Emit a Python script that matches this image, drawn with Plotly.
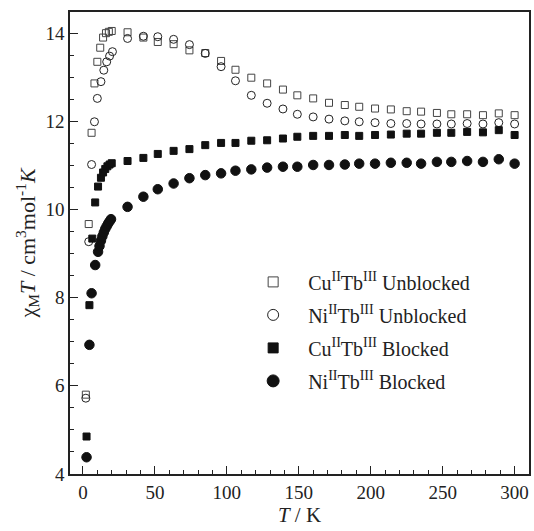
import plotly.graph_objects as go

T_hi = [31, 42, 52, 63, 74, 85, 96, 106, 117, 128, 139, 149, 160, 171, 182, 192,
        203, 214, 225, 235, 246, 256, 267, 278, 289, 300]

T_cu_unb = [2, 4, 6, 8, 10, 12, 14, 16, 18, 20] + T_hi
cu_unb = [5.8, 9.67, 11.74, 12.86, 13.35, 13.67, 13.9, 14.0, 14.03, 14.05,
          14.02, 13.9, 13.8, 13.75, 13.61, 13.55, 13.37, 13.17, 12.99, 12.86, 12.72,
          12.59, 12.52, 12.42, 12.37, 12.33, 12.29, 12.27, 12.23, 12.22, 12.19,
          12.16, 12.16, 12.14, 12.18, 12.14]

T_ni_unb = [2, 4, 6, 8, 10, 12.5, 14.5, 16.5, 18.5, 20.5] + T_hi
ni_unb = [5.72, 9.27, 11.02, 11.99, 12.52, 12.9, 13.16, 13.35, 13.48, 13.58,
          13.88, 13.93, 13.92, 13.86, 13.74, 13.54, 13.24, 12.92, 12.59, 12.41,
          12.28, 12.16, 12.1, 12.05, 12.01, 11.99, 11.97, 11.95, 11.95, 11.94,
          11.94, 11.94, 11.95, 11.94, 11.97, 11.94]

T_cu_blk = [2.5, 4.5, 6.5, 8.5, 10.5, 12.5, 14, 15.5, 17, 18.5, 20] + T_hi
cu_blk = [4.85, 7.83, 9.34, 10.16, 10.52, 10.72, 10.84, 10.92, 10.98, 11.02, 11.05,
          11.10, 11.17, 11.26, 11.33, 11.37, 11.46, 11.51, 11.51, 11.56, 11.57,
          11.61, 11.65, 11.67, 11.67, 11.69, 11.67, 11.69, 11.70, 11.72, 11.72,
          11.74, 11.74, 11.76, 11.75, 11.80, 11.69]

T_ni_blk = [2.5, 4.5, 6, 8.5, 10.5, 11.5, 12.5, 13.5, 14.5, 15.5, 16.5, 17.5,
            18.5, 19.5] + T_hi
ni_blk = [4.38, 6.93, 8.10, 8.74, 9.04, 9.17, 9.29, 9.39, 9.48, 9.56, 9.62, 9.68,
          9.73, 9.78,
          10.06, 10.29, 10.46, 10.59, 10.71, 10.78, 10.82, 10.88, 10.91, 10.95,
          10.97, 10.97, 11.01, 11.01, 11.02, 11.04, 11.04, 11.06, 11.06, 11.04,
          11.08, 11.08, 11.10, 11.08, 11.14, 11.04]

pad = "\u00a0\u00a0\u00a0"
names = [pad + "Cu<sup>II</sup>Tb<sup>III</sup> Unblocked",
         pad + "Ni<sup>II</sup>Tb<sup>III</sup> Unblocked",
         pad + "Cu<sup>II</sup>Tb<sup>III</sup> Blocked",
         pad + "Ni<sup>II</sup>Tb<sup>III</sup> Blocked"]

series = [
    (T_cu_unb, cu_unb, "square-open", 7, 10, "#444"),
    (T_ni_unb, ni_unb, "circle-open", 8, 11, "#222"),
    (T_cu_blk, cu_blk, "square", 7, 10, "#111"),
    (T_ni_blk, ni_blk, "circle", 9.5, 12, "#111"),
]

fig = go.Figure()
for (tx, vy, sym, sz, lsz, col), nm in zip(series, names):
    fig.add_trace(go.Scatter(x=tx, y=vy, mode="markers", showlegend=False,
                             marker=dict(symbol=sym, size=sz, color=col,
                                         line=dict(width=1, color=col))))
for i, ((tx, vy, sym, sz, lsz, col), nm) in enumerate(zip(series, names)):
    fig.add_trace(go.Scatter(x=[None], y=[None], mode="markers", name=nm,
                             legendgroup=f"g{i}",
                             marker=dict(symbol=sym, size=lsz, color=col,
                                         line=dict(width=1, color=col))))

font = "Liberation Serif, Times New Roman, serif"
axis_common = dict(showline=True, linecolor="#222", linewidth=1.5, mirror=True,
                   ticks="inside", ticklen=8, tickwidth=1.2, tickcolor="#222",
                   showgrid=False, zeroline=False,
                   tickfont=dict(family=font, size=19, color="#222"))

fig.update_layout(
    width=534, height=531,
    margin=dict(l=70, r=3, t=12, b=57),
    paper_bgcolor="white", plot_bgcolor="white",
    font=dict(family=font, color="#222"),
    xaxis=dict(range=[-9, 310], tickvals=[0, 50, 100, 150, 200, 250, 300],
               minor=dict(dtick=10, tick0=0, ticks="inside", ticklen=4,
                          tickcolor="#222", tickwidth=1),
               title=dict(text="<i>T</i> / K", font=dict(family=font, size=21),
                          standoff=6),
               **axis_common),
    yaxis=dict(range=[4, 14.48], tickvals=[4, 6, 8, 10, 12, 14],
               minor=dict(dtick=0.5, tick0=4, ticks="inside", ticklen=4,
                          tickcolor="#222", tickwidth=1),
               title=dict(text="χ<sub>M</sub><i>T</i> / cm<sup>3</sup>mol<sup>-1</sup><i>K</i>",
                          font=dict(family=font, size=22), standoff=4),
               **axis_common),
    legend=dict(x=0.399, y=0.458, xanchor="left", yanchor="top",
                bgcolor="rgba(0,0,0,0)", tracegroupgap=4,
                font=dict(family=font, size=20, color="#222")),
)

fig.write_html("out.html")
